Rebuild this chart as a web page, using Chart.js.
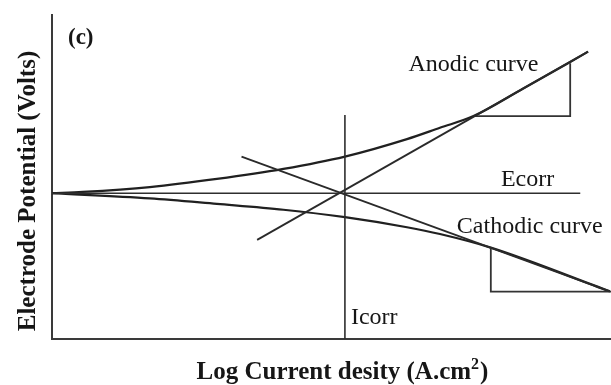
<!DOCTYPE html>
<html>
<head>
<meta charset="utf-8">
<script src="https://cdn.jsdelivr.net/npm/chart.js@4.4.1/dist/chart.umd.min.js"></script>
<style>
  html, body { margin: 0; padding: 0; background: #ffffff; }
  canvas { display: block; }
</style>
</head>
<body>
<canvas id="tafel" width="611" height="385"></canvas>
<script>
// Schematic Tafel plot: electrode potential vs. log current density (arbitrary units)
const ECORR = 4.5;
const ICORR = 5.24;

// Polarisation curves
const anodicX   = [0, 0.55, 1.75, 2.95, 4.14, 5.24, 6.35, 6.94, 7.54, 8.43, 9.27, 9.59];
const anodicY   = [4.50, 4.54, 4.69, 4.94, 5.25, 5.63, 6.17, 6.52, 6.88, 7.73, 8.55, 8.87];
const cathodicX = [0, 1.75, 2.95, 4.14, 5.24, 6.35, 6.94, 7.85, 9.98];
const cathodicY = [4.50, 4.34, 4.17, 3.99, 3.76, 3.45, 3.24, 2.82, 1.47];

// Tafel extrapolation lines
const anodicTafelX   = [3.67, 9.59];
const anodicTafelY   = [3.06, 8.87];
const cathodicTafelX = [3.39, 9.98];
const cathodicTafelY = [5.63, 1.47];

// Slope triangles
const anodicSlopeX   = [7.54, 9.27, 9.27];
const anodicSlopeY   = [6.88, 6.88, 8.51];
const cathodicSlopeX = [7.85, 7.85, 10.0];
const cathodicSlopeY = [2.80, 1.46, 1.46];

// Reference lines at Ecorr and Icorr
const ecorrLineX = [0, 9.45];
const icorrLineY = [0, 6.91];

// Text
const panelLabel    = '(c)';
const anodicLabel   = 'Anodic curve';
const cathodicLabel = 'Cathodic curve';
const ecorrLabel    = 'Ecorr';
const icorrLabel    = 'Icorr';
const xTitleParts = ['Log Current desity (A.cm', '2', ')'];
const yTitle = 'Electrode Potential (Volts)';

const pts = (xs, ys) => xs.map((v, i) => ({ x: v, y: ys[i] }));

function line(data, color, width, smooth) {
  return {
    data,
    showLine: true,
    borderColor: color,
    borderWidth: width,
    pointRadius: 0,
    pointHoverRadius: 0,
    fill: false,
    clip: false,
    tension: 0,
    cubicInterpolationMode: smooth ? 'monotone' : 'default'
  };
}

const SERIF = '"Liberation Serif", "Times New Roman", serif';
const INK = '#161616';

const textPlugin = {
  id: 'diagramText',
  afterDatasetsDraw(chart) {
    const { ctx, chartArea: a, scales: { x, y } } = chart;
    ctx.save();
    ctx.fillStyle = INK;
    ctx.textBaseline = 'alphabetic';

    ctx.textAlign = 'left';
    ctx.font = 'bold 23px ' + SERIF;
    ctx.fillText(panelLabel, a.left + 16, a.top + 29);

    ctx.font = '24px ' + SERIF;
    ctx.fillText(anodicLabel, x.getPixelForValue(anodicSlopeX[0]) - 65, y.getPixelForValue(anodicSlopeY[2]) + 8);
    ctx.fillText(cathodicLabel, x.getPixelForValue(cathodicSlopeX[0]) - 34, y.getPixelForValue(cathodicSlopeY[0]) - 15);
    ctx.fillText(icorrLabel, x.getPixelForValue(ICORR) + 6, a.bottom - 15);
    ctx.textAlign = 'right';
    ctx.fillText(ecorrLabel, x.getPixelForValue(ecorrLineX[1]) - 26, y.getPixelForValue(ECORR) - 7);

    // x-axis title with superscript exponent
    const mainFont = 'bold 25px ' + SERIF;
    const supFont = 'bold 16px ' + SERIF;
    ctx.textAlign = 'left';
    ctx.font = mainFont;
    const w0 = ctx.measureText(xTitleParts[0]).width;
    const w2 = ctx.measureText(xTitleParts[2]).width;
    ctx.font = supFont;
    const w1 = ctx.measureText(xTitleParts[1]).width + 1;
    let tx = (a.left + a.right) / 2 + 11 - (w0 + w1 + w2) / 2;
    ctx.font = mainFont;
    ctx.fillText(xTitleParts[0], tx, 379);
    ctx.font = supFont;
    ctx.fillText(xTitleParts[1], tx + w0, 369);
    ctx.font = mainFont;
    ctx.fillText(xTitleParts[2], tx + w0 + w1, 379);

    // y-axis title
    ctx.textAlign = 'center';
    ctx.translate(35, (a.top + a.bottom) / 2 + 14);
    ctx.rotate(-Math.PI / 2);
    ctx.fillText(yTitle, 0, 0);
    ctx.restore();
  }
};

const axisLine = { display: true, color: '#3a3a3a', width: 2 };

new Chart(document.getElementById('tafel'), {
  type: 'scatter',
  data: {
    datasets: [
      line(pts(ecorrLineX, [ECORR, ECORR]), '#2e2e2e', 1.6, false),
      line(pts([ICORR, ICORR], icorrLineY), '#2e2e2e', 1.6, false),
      line(pts(anodicTafelX, anodicTafelY), '#2a2a2a', 1.8, false),
      line(pts(cathodicTafelX, cathodicTafelY), '#2a2a2a', 1.8, false),
      line(pts(anodicSlopeX, anodicSlopeY), '#333333', 1.8, false),
      line(pts(cathodicSlopeX, cathodicSlopeY), '#333333', 1.8, false),
      line(pts(anodicX, anodicY), '#202020', 2.2, true),
      line(pts(cathodicX, cathodicY), '#202020', 2.2, true)
    ]
  },
  options: {
    responsive: false,
    animation: false,
    devicePixelRatio: 1,
    layout: { padding: { left: 52, top: 15, right: 0, bottom: 46 } },
    plugins: { legend: { display: false }, tooltip: { enabled: false } },
    events: [],
    scales: {
      x: {
        type: 'linear', min: 0, max: 10,
        grid: { display: false, drawTicks: false },
        border: axisLine,
        ticks: { display: false },
        afterFit: (s) => { s.height = 0; }
      },
      y: {
        type: 'linear', min: 0, max: 10,
        grid: { display: false, drawTicks: false },
        border: axisLine,
        ticks: { display: false },
        afterFit: (s) => { s.width = 0; }
      }
    }
  },
  plugins: [textPlugin]
});
</script>
</body>
</html>
